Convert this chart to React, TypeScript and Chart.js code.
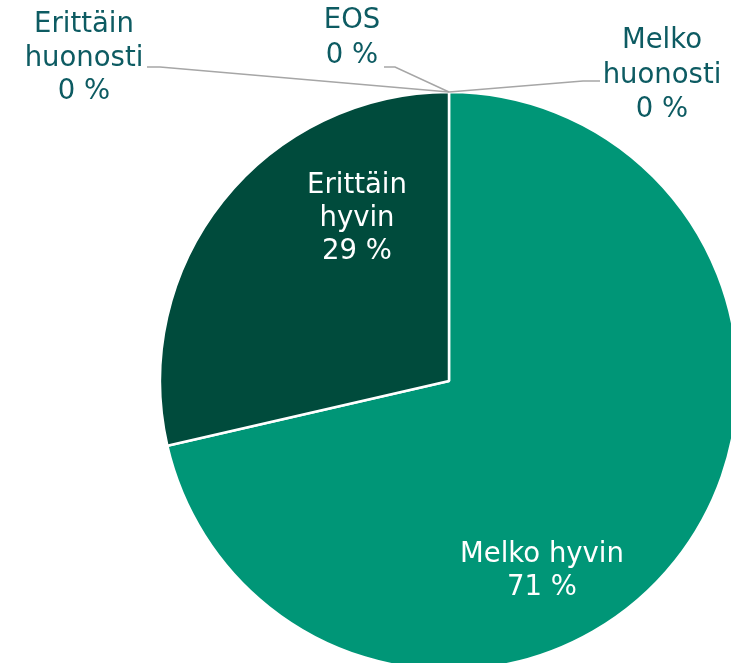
import React, { useEffect, useRef } from "react";
import { Chart, registerables } from "chart.js";

Chart.register(...registerables);

const categories = ["Melko hyvin", "Erittäin hyvin", "Melko huonosti", "Erittäin huonosti", "EOS"];
const values = [71.4, 28.6, 0, 0, 0];
const sliceColors = ["#009677", "#004B3C", "#8FC9B8", "#5FAE96", "#BFBFBF"];

const FONT = "27.5px 'DejaVu Sans', Verdana, sans-serif";
const OUT_TEXT = "#0D5B62";
const LEADER = "#A6A6A6";

// label layout, relative to pie centre (pixels)
const layout: Record<number, any> = {
  0: { dx: 93, dy: 181, lh: 33, wrap: false, color: "#FFFFFF" },
  1: { dx: -92, dy: -188, lh: 33, wrap: true, color: "#FFFFFF" },
  2: { dx: 213, dy: -333, lh: 34.5, wrap: true, color: OUT_TEXT, leader: [[151, -300], [134, -300]] },
  3: { dx: -365, dy: -349, lh: 33.5, wrap: true, color: OUT_TEXT, leader: [[-302, -314], [-289, -314]] },
  4: { dx: -97, dy: -353, lh: 35, wrap: false, color: OUT_TEXT, leader: [[-65, -314], [-54, -314]] },
};

const labelPlugin = {
  id: "pieLabels",
  afterDatasetsDraw(chart: any) {
    const meta = chart.getDatasetMeta(0);
    const ctx = chart.ctx as CanvasRenderingContext2D;
    const first = meta.data[0] as any;
    const cx = first.x;
    const cy = first.y;
    ctx.save();
    meta.data.forEach((arc: any, i: number) => {
      const L = layout[i];
      if (!L) return;
      const name = categories[i];
      const lines = (L.wrap ? name.split(" ") : [name]).concat([`${Math.round(values[i])} %`]);
      if (L.leader) {
        const ax = arc.x + arc.outerRadius * Math.cos(arc.startAngle);
        const ay = arc.y + arc.outerRadius * Math.sin(arc.startAngle);
        ctx.beginPath();
        ctx.strokeStyle = LEADER;
        ctx.lineWidth = 1.5;
        ctx.moveTo(cx + L.leader[0][0], cy + L.leader[0][1]);
        ctx.lineTo(cx + L.leader[1][0], cy + L.leader[1][1]);
        ctx.lineTo(ax, ay);
        ctx.stroke();
      }
      ctx.font = FONT;
      ctx.fillStyle = L.color;
      ctx.textAlign = "center";
      ctx.textBaseline = "alphabetic";
      lines.forEach((t: string, k: number) => {
        ctx.fillText(t, cx + L.dx, cy + L.dy + k * L.lh);
      });
    });
    ctx.restore();
  },
};

export default function App() {
  const ref = useRef<HTMLCanvasElement | null>(null);
  useEffect(() => {
    if (!ref.current) return;
    const chart = new Chart(ref.current, {
      type: "pie",
      data: {
        labels: categories,
        datasets: [
          {
            data: values,
            backgroundColor: sliceColors,
            borderColor: "#FFFFFF",
            borderWidth: 2.5,
            radius: 289,
            clip: false,
          } as any,
        ],
      },
      options: {
        responsive: false,
        animation: false,
        devicePixelRatio: 1,
        rotation: 0,
        layout: { padding: { left: 167, top: 99, right: 0, bottom: 0 } },
        plugins: {
          legend: { display: false },
          tooltip: { enabled: false },
        },
      },
      plugins: [labelPlugin],
    });
    return () => chart.destroy();
  }, []);
  return (
    <div style={{ position: "fixed", left: 0, top: 0, width: 731, height: 663, background: "#fff", overflow: "hidden" }}>
      <canvas ref={ref} width={731} height={663} style={{ display: "block" }} />
    </div>
  );
}
